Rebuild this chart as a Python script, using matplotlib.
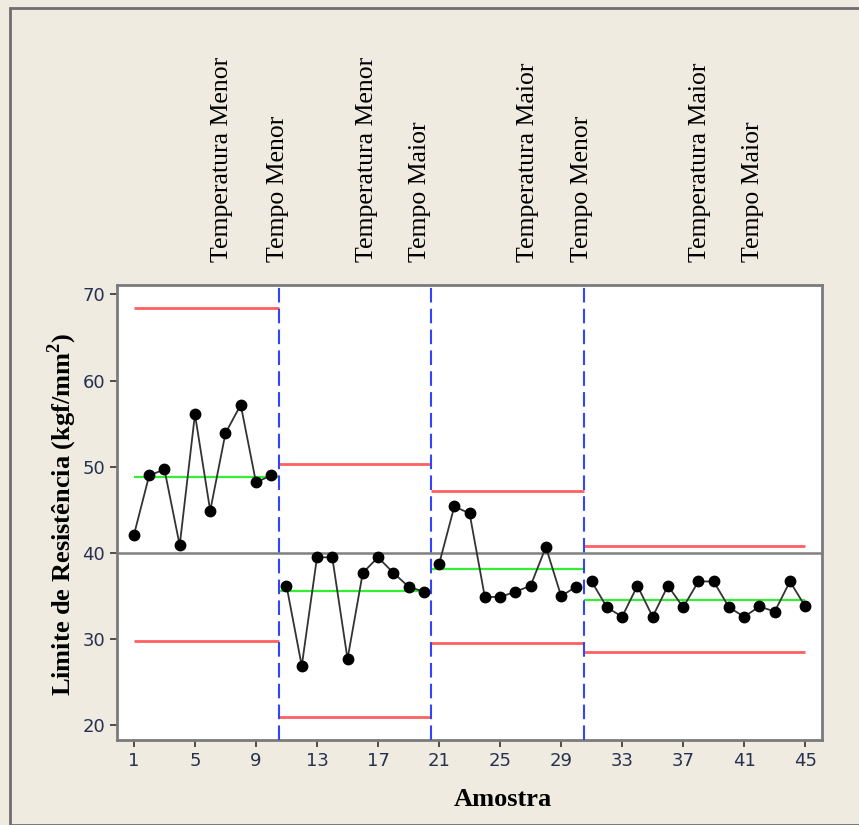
import numpy as np
import matplotlib.pyplot as plt
from matplotlib.patches import Rectangle

# dados das amostras
amostra = np.arange(1, 46)
valores = [42.1, 49.0, 49.7, 40.9, 56.1, 44.9, 53.9, 57.2, 48.2, 49.0,
           36.2, 26.9, 39.5, 39.5, 27.7, 37.7, 39.5, 37.7, 36.1, 35.5,
           38.7, 45.4, 44.6, 34.9, 34.9, 35.5, 36.2, 40.7, 35.0, 36.1,
           36.7, 33.7, 32.6, 36.2, 32.6, 36.2, 33.7, 36.7, 36.7, 33.7,
           32.6, 33.8, 33.2, 36.7, 33.8]

# estágios: início, fim, LSC, média, LIC
inicio = [1, 10.5, 20.5, 30.5]
fim = [10.5, 20.5, 30.5, 45]
lsc = [68.4, 50.3, 47.2, 40.8]
media = [48.8, 35.6, 38.2, 34.6]
lic = [29.8, 21.0, 29.5, 28.5]
media_geral = 40

rotulos = [('Temperatura Menor', 'Tempo Menor'),
           ('Temperatura Menor', 'Tempo Maior'),
           ('Temperatura Maior', 'Tempo Menor'),
           ('Temperatura Maior', 'Tempo Maior')]
rotulo_x = [222, 278, 367, 420, 528, 582, 700, 753]

fig = plt.figure(figsize=(8.59, 8.25), dpi=100, facecolor='#EFEBE0')
W, H = 859, 825
fig.patches.append(Rectangle((10 / W, 0), 1, 1 - 8 / H, transform=fig.transFigure,
                             fill=False, edgecolor='#6E6E6E', linewidth=2))

ax = fig.add_axes([117 / W, 1 - 740 / H, (822 - 117) / W, (740 - 285) / H])
ax.set_facecolor('white')

ax.axhline(media_geral, color='#808080', linewidth=1.8, zorder=2)
for i in range(4):
    ax.hlines(lsc[i], inicio[i], fim[i], color='#FF6060', linewidth=2, zorder=2)
    ax.hlines(lic[i], inicio[i], fim[i], color='#FF6060', linewidth=2, zorder=2)
    ax.hlines(media[i], inicio[i], fim[i], color='#33EE33', linewidth=1.6, zorder=2)
for x in [10.5, 20.5, 30.5]:
    ax.axvline(x, color='#3344FF', linestyle=(0, (7, 3)), linewidth=1.5, zorder=3)

# pontos ligados dentro de cada estágio
for i in range(4):
    a = int(np.ceil(inicio[i])) if i > 0 else 1
    b = int(np.floor(fim[i]))
    ax.plot(amostra[a - 1:b], valores[a - 1:b], color='#333333', linewidth=1.3,
            marker='o', markersize=7.5, markerfacecolor='black', markeredgecolor='black', zorder=4)

ax.set_xlim(-0.11, 46.1)
ax.set_ylim(18.3, 71.1)
ax.set_xticks(range(1, 46, 4))
ax.set_yticks(range(20, 71, 10))
ax.tick_params(labelsize=13, colors='#333333', labelcolor='#26314F', width=1.2, length=5)
for s in ax.spines.values():
    s.set_color('#7A7A7A')
    s.set_linewidth(2)

ax.set_xlabel('Amostra', family='Liberation Serif', fontweight='bold', fontsize=19)
ax.set_ylabel('Limite de Resistência (kgf/mm$^\\mathregular{2}$)', family='Liberation Serif',
              fontweight='bold', fontsize=19)
ax.xaxis.set_label_coords(0.548, -0.105)
ax.yaxis.set_label_coords(-0.054, 0.495)

k = 0
for par in rotulos:
    for t in par:
        fig.text(rotulo_x[k] / W, 1 - 262 / H, t, rotation=90, ha='center', va='bottom',
                 family='Liberation Serif', fontsize=18.5, color='black')
        k += 1

fig.savefig('out.png', dpi=100, facecolor=fig.get_facecolor())
